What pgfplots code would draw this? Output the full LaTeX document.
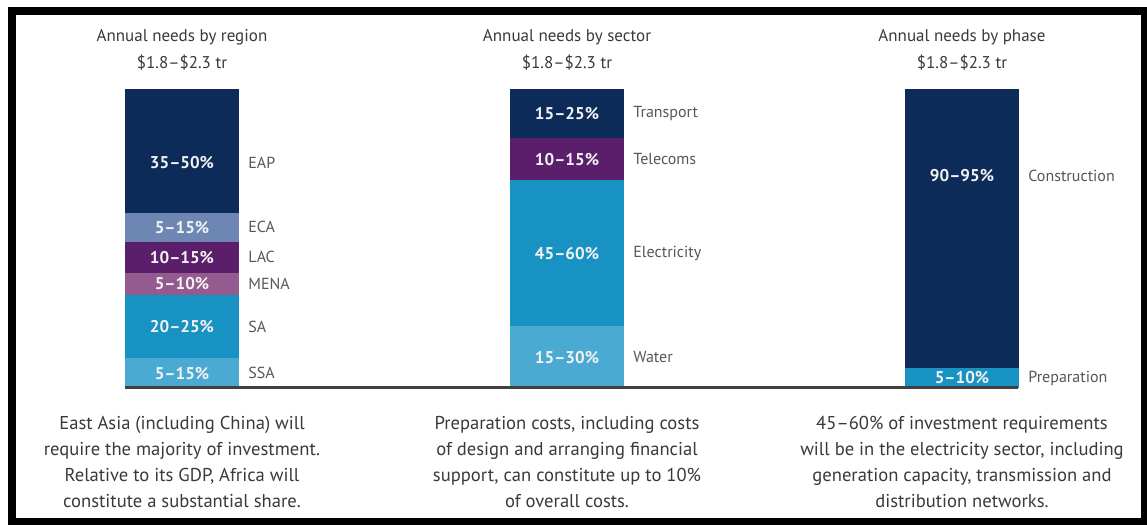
\documentclass[border=0pt]{standalone}
\usepackage{fontspec}
\setmainfont{PT Sans}
\usepackage{pgfplots}
\pgfplotsset{compat=1.18}

\definecolor{navy}{HTML}{0D2B58}
\definecolor{slate}{HTML}{6E86B4}
\definecolor{plum}{HTML}{5B1E6B}
\definecolor{mauve}{HTML}{955A90}
\definecolor{ocean}{HTML}{1891C3}
\definecolor{sky}{HTML}{4AAAD2}
\definecolor{txt}{HTML}{3A3A3A}

\tikzset{cat/.style={anchor=west, xshift=33pt, inner sep=0pt,
  font=\fontsize{8}{9}\selectfont, text=txt!85}}

\pgfplotsset{
  needbar/.style={
    ybar stacked, scale only axis, width=57pt, height=149.5pt,
    anchor=south west, xmin=-0.5, xmax=0.5, ymin=0, ymax=100,
    bar width=57pt, axis line style={draw=none}, xtick=\empty, ytick=\empty,
    clip=false,
    title style={align=center, at={(0.5,1)}, anchor=south, yshift=0pt,
      font=\fontsize{8.5}{13.5}\selectfont, text=txt},
    xlabel style={align=center, at={(0.5,0)}, anchor=north, yshift=-10.5pt,
      font=\fontsize{9.3}{13}\selectfont, text=txt},
    % stacked nodes already sit mid-segment here
    nodes near coords, point meta=explicit symbolic,
    nodes near coords align={anchor=center},
    every node near coord/.append style={
      font=\bfseries\fontsize{8.5}{10}\selectfont, text=white!95!black},
  },
  seg/.style 2 args={fill=#1, draw=none,
    every node near coord/.append style={append after command={
      node[cat] at (\tikzlastnode.center) {#2}}}},
}

\begin{document}
\begin{tikzpicture}
\useasboundingbox[fill=white] (0,0) rectangle (573.5pt,262.5pt);

% by region
\begin{axis}[needbar, at={(62.5pt,68.5pt)},
  title={Annual needs by region\\\$1.8–\$2.3 tr},
  xlabel={East Asia (including China) will\\require the majority of investment.\\Relative to its GDP, Africa will\\constitute a substantial share.}]
  \addplot[seg={sky}{SSA}] coordinates {(0,10.0) [5–15\%]};
  \addplot[seg={ocean}{SA}] coordinates {(0,21.1) [20–25\%]};
  \addplot[seg={mauve}{MENA}] coordinates {(0,7.4) [5–10\%]};
  \addplot[seg={plum}{LAC}] coordinates {(0,10.4) [10–15\%]};
  \addplot[seg={slate}{ECA}] coordinates {(0,9.7) [5–15\%]};
  \addplot[seg={navy}{EAP}, every node near coord/.append style={yshift=-6pt}]
    coordinates {(0,41.4) [35–50\%]};
\end{axis}

% by sector
\begin{axis}[needbar, at={(255pt,68.5pt)},
  title={Annual needs by sector\\\$1.8–\$2.3 tr},
  xlabel={Preparation costs, including costs\\of design and arranging financial\\support, can constitute up to 10\%\\of overall costs.}]
  \addplot[seg={sky}{Water}] coordinates {(0,20.7) [15–30\%]};
  \addplot[seg={ocean}{Electricity}] coordinates {(0,48.8) [45–60\%]};
  \addplot[seg={plum}{Telecoms}] coordinates {(0,14.0) [10–15\%]};
  \addplot[seg={navy}{Transport}] coordinates {(0,16.5) [15–25\%]};
\end{axis}

% by phase
\begin{axis}[needbar, at={(452.5pt,68.5pt)},
  title={Annual needs by phase\\\$1.8–\$2.3 tr},
  xlabel={45–60\% of investment requirements\\will be in the electricity sector, including\\generation capacity, transmission and\\distribution networks.}]
  \addplot[seg={ocean}{Preparation}] coordinates {(0,6.7) [5–10\%]};
  \addplot[seg={navy}{Construction}, every node near coord/.append style={yshift=26.5pt}]
    coordinates {(0,93.3) [90–95\%]};
\end{axis}

\draw[line width=1.5pt, black!75] (62.5pt,68.5pt) -- (509pt,68.5pt);
\draw[line width=4pt] (6pt,1.5pt) rectangle (572.5pt,257pt);
\end{tikzpicture}
\end{document}
